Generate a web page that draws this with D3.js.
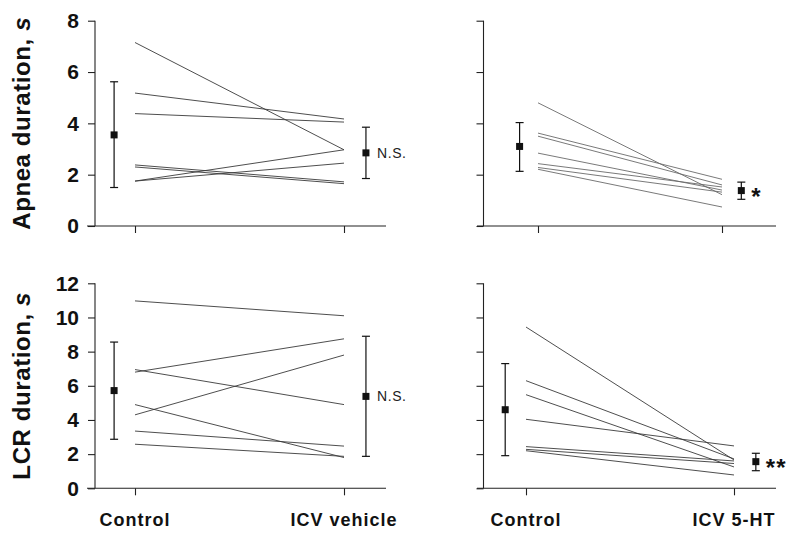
<!DOCTYPE html>
<html><head><meta charset="utf-8">
<script src="https://cdn.jsdelivr.net/npm/d3@7"></script>
<style>body{margin:0;background:#fff}svg{display:block}</style>
</head><body>
<svg id="chart" width="800" height="542"></svg>
<script>
// ---------- DATA ----------
const conditions = ["Control", "ICV vehicle", "ICV 5-HT"];
const apneaTicks = [0, 2, 4, 6, 8];
const lcrTicks = [0, 2, 4, 6, 8, 10, 12];

// Apnea, vehicle experiment
const apneaVehControl = [7.15, 5.18, 4.38, 2.38, 2.30, 1.75, 1.75];
const apneaVehICV     = [2.97, 4.17, 4.05, 1.72, 1.65, 2.97, 2.45];
const apneaVehMean    = [3.55, 2.85];
const apneaVehLow     = [1.50, 1.85];
const apneaVehHigh    = [5.62, 3.85];

// Apnea, 5-HT experiment
const apnea5htControl = [4.80, 3.62, 3.50, 2.84, 2.43, 2.28, 2.21];
const apnea5htICV     = [1.22, 1.82, 1.60, 1.40, 1.52, 1.32, 0.74];
const apnea5htMean    = [3.10, 1.38];
const apnea5htLow     = [2.13, 1.04];
const apnea5htHigh    = [4.03, 1.71];

// LCR, vehicle experiment
const lcrVehControl = [10.97, 6.80, 6.95, 4.30, 4.90, 3.35, 2.58];
const lcrVehICV     = [10.10, 8.75, 4.90, 7.80, 1.80, 2.47, 1.87];
const lcrVehMean    = [5.72, 5.38];
const lcrVehLow     = [2.87, 1.87];
const lcrVehHigh    = [8.56, 8.90];

// LCR, 5-HT experiment
const lcr5htControl = [9.44, 6.30, 5.48, 4.04, 2.44, 2.28, 2.20];
const lcr5htICV     = [1.66, 1.72, 1.25, 2.48, 1.60, 1.45, 0.78];
const lcr5htMean    = [4.60, 1.56];
const lcr5htLow     = [1.91, 1.03];
const lcr5htHigh    = [7.30, 2.05];

const significance = ["N.S.", "*", "N.S.", "**"];

// ---------- LAYOUT ----------
const svg = d3.select("#chart");
const FONT = "Liberation Sans, Arial, sans-serif";
const panels = [
  {ctrl: apneaVehControl, icv: apneaVehICV, mean: apneaVehMean, low: apneaVehLow, high: apneaVehHigh,
   ticks: apneaTicks, yMax: 8, yTop: 20.7, yBot: 226, axisX: 95, xStart: 87, xEnd: 386, t0: 135, t1: 344,
   labels: true, ylabel: "Apnea duration, ", sig: significance[0], lineColor: "#3a3a3a", xl: null},
  {ctrl: apnea5htControl, icv: apnea5htICV, mean: apnea5htMean, low: apnea5htLow, high: apnea5htHigh,
   ticks: apneaTicks, yMax: 8, yTop: 20.7, yBot: 226, axisX: 483.5, xStart: 477, xEnd: 776, t0: 538, t1: 722,
   labels: false, sig: significance[1], lineColor: "#6a6a6a", xl: null},
  {ctrl: lcrVehControl, icv: lcrVehICV, mean: lcrVehMean, low: lcrVehLow, high: lcrVehHigh,
   ticks: lcrTicks, yMax: 12, yTop: 283.3, yBot: 488.3, axisX: 95, xStart: 87, xEnd: 386, t0: 135, t1: 344,
   labels: true, ylabel: "LCR duration, ", sig: significance[2], lineColor: "#3a3a3a", xl: [conditions[0], conditions[1]]},
  {ctrl: lcr5htControl, icv: lcr5htICV, mean: lcr5htMean, low: lcr5htLow, high: lcr5htHigh,
   ticks: lcrTicks, yMax: 12, yTop: 283.3, yBot: 488.3, axisX: 483.5, xStart: 477, xEnd: 776, t0: 526, t1: 734,
   labels: false, sig: significance[3], lineColor: "#3a3a3a", xl: [conditions[0], conditions[2]]}
];
const meanPos = [-0.1, 1.105];

panels.forEach(p => {
  const g = svg.append("g");
  const y = d3.scaleLinear().domain([0, p.yMax]).range([p.yBot, p.yTop]);
  const x = d3.scaleLinear().domain([0, 1]).range([p.t0, p.t1]);

  // y axis
  const ya = g.append("g").attr("transform", `translate(${p.axisX},0)`)
    .call(d3.axisLeft(y).tickValues(p.ticks).tickSize(7).tickPadding(9)
      .tickFormat(p.labels ? d3.format("d") : () => ""));
  ya.select(".domain").attr("stroke", "#222").attr("stroke-width", 1.1)
    .attr("d", `M0,${p.yBot}V${p.yTop}`);
  ya.selectAll(".tick line").attr("stroke", "#222").attr("stroke-width", 1.1);
  ya.selectAll(".tick text").attr("font-family", FONT)
    .attr("font-weight", "bold").attr("font-size", 21).attr("fill", "#111");

  // x axis
  const xa = g.append("g").attr("transform", `translate(0,${p.yBot})`)
    .call(d3.axisBottom(x).tickValues([0, 1]).tickSize(7).tickFormat(() => ""));
  xa.select(".domain").remove();
  xa.selectAll(".tick line").attr("stroke", "#222").attr("stroke-width", 1.1);
  g.append("line").attr("x1", p.xStart).attr("x2", p.xEnd).attr("y1", p.yBot).attr("y2", p.yBot)
    .attr("stroke", "#222").attr("stroke-width", 1.1);

  // individual lines
  g.selectAll(".ind").data(p.ctrl.map((c, i) => [c, p.icv[i]])).enter().append("line")
    .attr("x1", x(0)).attr("x2", x(1))
    .attr("y1", d => y(d[0])).attr("y2", d => y(d[1]))
    .attr("stroke", p.lineColor).attr("stroke-width", 0.9);

  // error bars
  const eb = g.selectAll(".eb").data(p.mean.map((m, i) => ({m, lo: p.low[i], hi: p.high[i], xp: meanPos[i]})))
    .enter().append("g");
  eb.append("line").attr("x1", d => x(d.xp)).attr("x2", d => x(d.xp))
    .attr("y1", d => y(d.lo)).attr("y2", d => y(d.hi)).attr("stroke", "#111").attr("stroke-width", 1.2);
  ["lo", "hi"].forEach(k => {
    eb.append("line").attr("x1", d => x(d.xp) - 4).attr("x2", d => x(d.xp) + 4)
      .attr("y1", d => y(d[k])).attr("y2", d => y(d[k])).attr("stroke", "#111").attr("stroke-width", 1.2);
  });
  eb.append("rect").attr("x", d => x(d.xp) - 3.5).attr("y", d => y(d.m) - 3.5)
    .attr("width", 7).attr("height", 7).attr("fill", "#111");

  // significance
  const sx = x(meanPos[1]) + 11;
  const sy = y(p.mean[1]);
  if (p.sig === "N.S.") {
    g.append("text").attr("x", sx).attr("y", sy + 5).text(p.sig)
      .attr("font-family", FONT).attr("font-size", 14)
      .attr("letter-spacing", 0.6).attr("fill", "#222");
  } else {
    g.append("text").attr("x", sx - 1).attr("y", sy + 14).text(p.sig)
      .attr("font-family", FONT).attr("font-size", 24)
      .attr("font-weight", "bold").attr("letter-spacing", 1).attr("fill", "#111");
  }

  // y label
  if (p.ylabel) {
    const cy = (p.yTop + p.yBot) / 2;
    const t = g.append("text").attr("transform", `translate(30,${cy}) rotate(-90)`)
      .attr("text-anchor", "middle").attr("font-family", FONT)
      .attr("font-weight", "bold").attr("font-size", 24).attr("letter-spacing", 0.6).attr("fill", "#111");
    t.append("tspan").text(p.ylabel);
    t.append("tspan").attr("font-style", "italic").text("s");
  }

  // x labels
  if (p.xl) {
    g.selectAll(".xl").data(p.xl).enter().append("text")
      .attr("x", (d, i) => x(i)).attr("y", p.yBot + 38).attr("text-anchor", "middle")
      .attr("font-family", FONT).attr("font-weight", "bold")
      .attr("font-size", 18).attr("letter-spacing", 1).attr("fill", "#111").text(d => d);
  }
});
</script>
</body></html>
